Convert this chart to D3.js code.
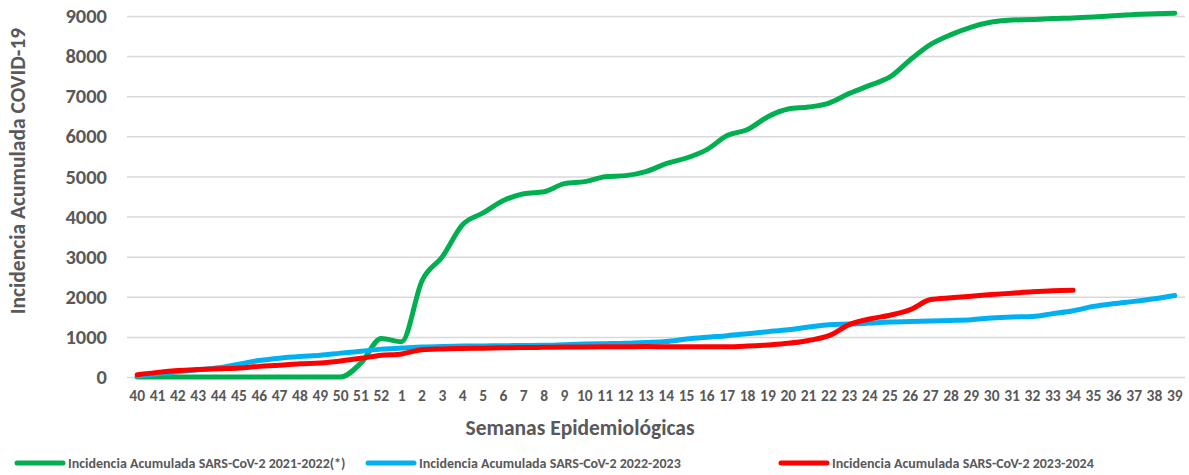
<!DOCTYPE html>
<html>
<head>
<meta charset="utf-8">
<script src="https://cdn.jsdelivr.net/npm/d3@7"></script>
<style>
  body { margin: 0; background: #fff; }
  text { font-family: Carlito, Lato, 'Open Sans', sans-serif; font-weight: bold; fill: #595959; }
</style>
</head>
<body>
<div id="chart"></div>
<script>
// Semanas epidemiológicas 40..52 y 1..39
var weeks = ['40', '41', '42', '43', '44', '45', '46', '47', '48', '49', '50', '51', '52',
  '1', '2', '3', '4', '5', '6', '7', '8', '9', '10', '11', '12', '13', '14', '15', '16', '17', '18', '19', '20',
  '21', '22', '23', '24', '25', '26', '27', '28', '29', '30', '31', '32', '33', '34', '35', '36', '37', '38', '39']

var season2122 = [0, 0, 0, 0, 0, 0, 0, 0, 0, 0, 0, 350, 960,
  880, 2400, 3000, 3800, 4090, 4400, 4570, 4620, 4820, 4870, 4990, 5020, 5120, 5320, 5460, 5670, 6020, 6170, 6490, 6680,
  6730, 6830, 7070, 7270, 7480, 7910, 8290, 8535, 8725, 8850, 8900, 8910, 8935, 8950, 8975, 9005, 9040, 9055, 9070]

var season2223 = [20, 80, 130, 180, 230, 320, 410, 470, 510, 540, 595, 640, 695,
  720, 745, 760, 770, 775, 780, 785, 790, 805, 820, 830, 840, 860, 885, 945, 990, 1030, 1080, 1130, 1180,
  1245, 1305, 1320, 1345, 1370, 1385, 1395, 1410, 1430, 1470, 1495, 1510, 1580, 1650, 1760, 1830, 1885, 1950, 2030]

var season2324 = [55, 115, 160, 185, 205, 225, 265, 290, 330, 350, 400, 465, 540,
  575, 680, 700, 710, 718, 728, 735, 740, 745, 750, 752, 755, 760, 755, 752, 752, 752, 770, 800, 840,
  910, 1030, 1305, 1445, 1540, 1680, 1930, 1975, 2015, 2055, 2090, 2125, 2150, 2160,
  null, null, null, null, null]

var seriesNames = ['Incidencia Acumulada SARS-CoV-2 2021-2022(*)', 'Incidencia Acumulada SARS-CoV-2 2022-2023', 'Incidencia Acumulada SARS-CoV-2 2023-2024']
var seriesColors = ['#00b050', '#00b0f0', '#ff0000']
var yTicks = [0, 1000, 2000, 3000, 4000, 5000, 6000, 7000, 8000, 9000]

var margin = { top: 16, left: 127, right: 4, bottom: 98 }
var svgWidth = 1189
var svgHeight = 475
var width = svgWidth - margin.left - margin.right
var height = svgHeight - margin.top - margin.bottom

var svg = d3.select('#chart')
  .append('svg')
  .attr('width', svgWidth)
  .attr('height', svgHeight)

var g = svg.append('g')
  .attr('transform', `translate(${margin.left}, ${margin.top})`)

var xPositionScale = d3.scaleBand().domain(weeks).range([0, width])
var yPositionScale = d3.scaleLinear().domain([0, 9000]).range([height, 0])

var xCenter = d => xPositionScale(d) + xPositionScale.bandwidth() / 2

// gridlines + y labels
var yAxis = d3.axisLeft(yPositionScale).tickValues(yTicks).tickFormat(d3.format('d')).tickSize(-width).tickPadding(20)
g.append('g')
  .attr('class', 'axis y-axis')
  .call(yAxis)
  .call(sel => sel.select('.domain').remove())
  .call(sel => sel.selectAll('line').attr('stroke', '#d9d9d9').attr('stroke-width', 1.5))
  .call(sel => sel.selectAll('text').attr('font-size', 20.5).attr('fill', '#595959'))

// x labels
var xAxis = d3.axisBottom(xPositionScale).tickSize(0).tickPadding(13)
g.append('g')
  .attr('class', 'axis x-axis')
  .attr('transform', `translate(0, ${height})`)
  .call(xAxis)
  .call(sel => sel.select('.domain').remove())
  .call(sel => sel.selectAll('text').attr('font-size', 15.5).attr('fill', '#595959'))

var line = d3.line()
  .x(d => xCenter(d.week))
  .y(d => yPositionScale(d.value))
  .curve(d3.curveMonotoneX)

var allSeries = [season2122, season2223, season2324]

allSeries.forEach(function(values, i) {
  var points = weeks.map((w, j) => ({ week: w, value: values[j] })).filter(d => d.value !== null)
  g.append('path')
    .datum(points)
    .attr('d', line)
    .attr('fill', 'none')
    .attr('stroke', seriesColors[i])
    .attr('stroke-width', 5)
    .attr('stroke-linecap', 'round')
    .attr('stroke-linejoin', 'round')
})

// axis titles
svg.append('text')
  .text('Semanas Epidemiológicas')
  .attr('x', 580)
  .attr('y', 435)
  .attr('font-size', 21.5)
  .attr('text-anchor', 'middle')

svg.append('text')
  .text('Incidencia Acumulada COVID-19')
  .attr('transform', 'translate(25, 171) rotate(-90)')
  .attr('font-size', 21.5)
  .attr('text-anchor', 'middle')

// legend
var legendX = [17, 368, 781]
var legend = svg.selectAll('.legend')
  .data(seriesNames)
  .enter()
  .append('g')
  .attr('class', 'legend')
  .attr('transform', (d, i) => `translate(${legendX[i]}, 463)`)

legend.append('line')
  .attr('x1', 0)
  .attr('x2', 46)
  .attr('stroke', (d, i) => seriesColors[i])
  .attr('stroke-width', 5)
  .attr('stroke-linecap', 'round')

legend.append('text')
  .text(d => d)
  .attr('x', 51)
  .attr('dy', '0.35em')
  .attr('font-size', 14)
</script>
</body>
</html>
